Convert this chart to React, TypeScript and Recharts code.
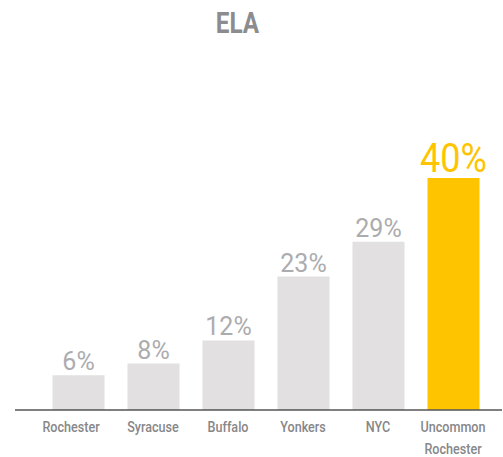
import React from 'react';
import { BarChart, Bar, XAxis, YAxis, Cell, LabelList } from 'recharts';

const categories = ['Rochester', 'Syracuse', 'Buffalo', 'Yonkers', 'NYC', 'Uncommon Rochester'];
const values = [6, 8, 12, 23, 29, 40];
const highlight = [false, false, false, false, false, true];

const data = categories.map((name, i) => ({ name, value: values[i], hi: highlight[i] }));

const GRAY_BAR = '#e2e0e1';
const GOLD = '#ffc400';
const font = 'Roboto, "Noto Sans", sans-serif';

const Tick = (props: any) => {
  const { x, y, payload, index } = props;
  const lines = payload.value === 'Uncommon Rochester' ? payload.value.split(' ') : [payload.value];
  const dx = index === 0 ? -7 : 0;
  return (
    <g transform={`translate(${x + dx},${y}) scale(0.84,1)`}>
      <text x={0} y={0} textAnchor="middle" fill="#878789" fontFamily={font} fontWeight={500} fontSize={15}>
        {lines.map((l: string, i: number) => (
          <tspan key={i} x={0} dy={22}>{l}</tspan>
        ))}
      </text>
    </g>
  );
};

const ValueLabel = (props: any) => {
  const { x, y, width, value, index } = props;
  const hi = highlight[index];
  return (
    <g transform={`translate(${x + width / 2},${y - (hi ? 6 : 5)}) scale(${hi ? 0.9 : 1},1)`}>
      <text
        x={0}
        y={0}
        textAnchor="middle"
        fill={hi ? GOLD : '#acacaf'}
        fontFamily={font}
        fontWeight={400}
        fontSize={hi ? 40 : 25}
      >
        {value}%
      </text>
    </g>
  );
};

export default function App() {
  return (
    <div style={{ position: 'absolute', left: 0, top: 0, width: 503, height: 457, background: '#fff' }}>
      <svg width={503} height={50} style={{ position: 'absolute', left: 0, top: 0 }}>
        <g transform="translate(237.5,33) scale(0.81,1)">
          <text x={0} y={0} textAnchor="middle" fill="#8c8c8e" fontFamily={font} fontWeight={700} fontSize={30}>
            ELA
          </text>
        </g>
      </svg>
      <BarChart width={503} height={457} data={data} margin={{ top: 178, right: 1, left: 15, bottom: 0 }}>
        <XAxis
          dataKey="name"
          height={47}
          interval={0}
          padding={{ left: 25.5, right: 11.5 }}
          axisLine={{ stroke: '#555', strokeWidth: 1.5 }}
          tickLine={false}
          tickSize={0}
          tickMargin={0}
          tick={<Tick />}
        />
        <YAxis hide domain={[0, 40]} />
        <Bar dataKey="value" barSize={52} isAnimationActive={false}>
          {data.map((d, i) => (
            <Cell key={i} fill={d.hi ? GOLD : GRAY_BAR} />
          ))}
          <LabelList dataKey="value" content={<ValueLabel />} />
        </Bar>
      </BarChart>
    </div>
  );
}
